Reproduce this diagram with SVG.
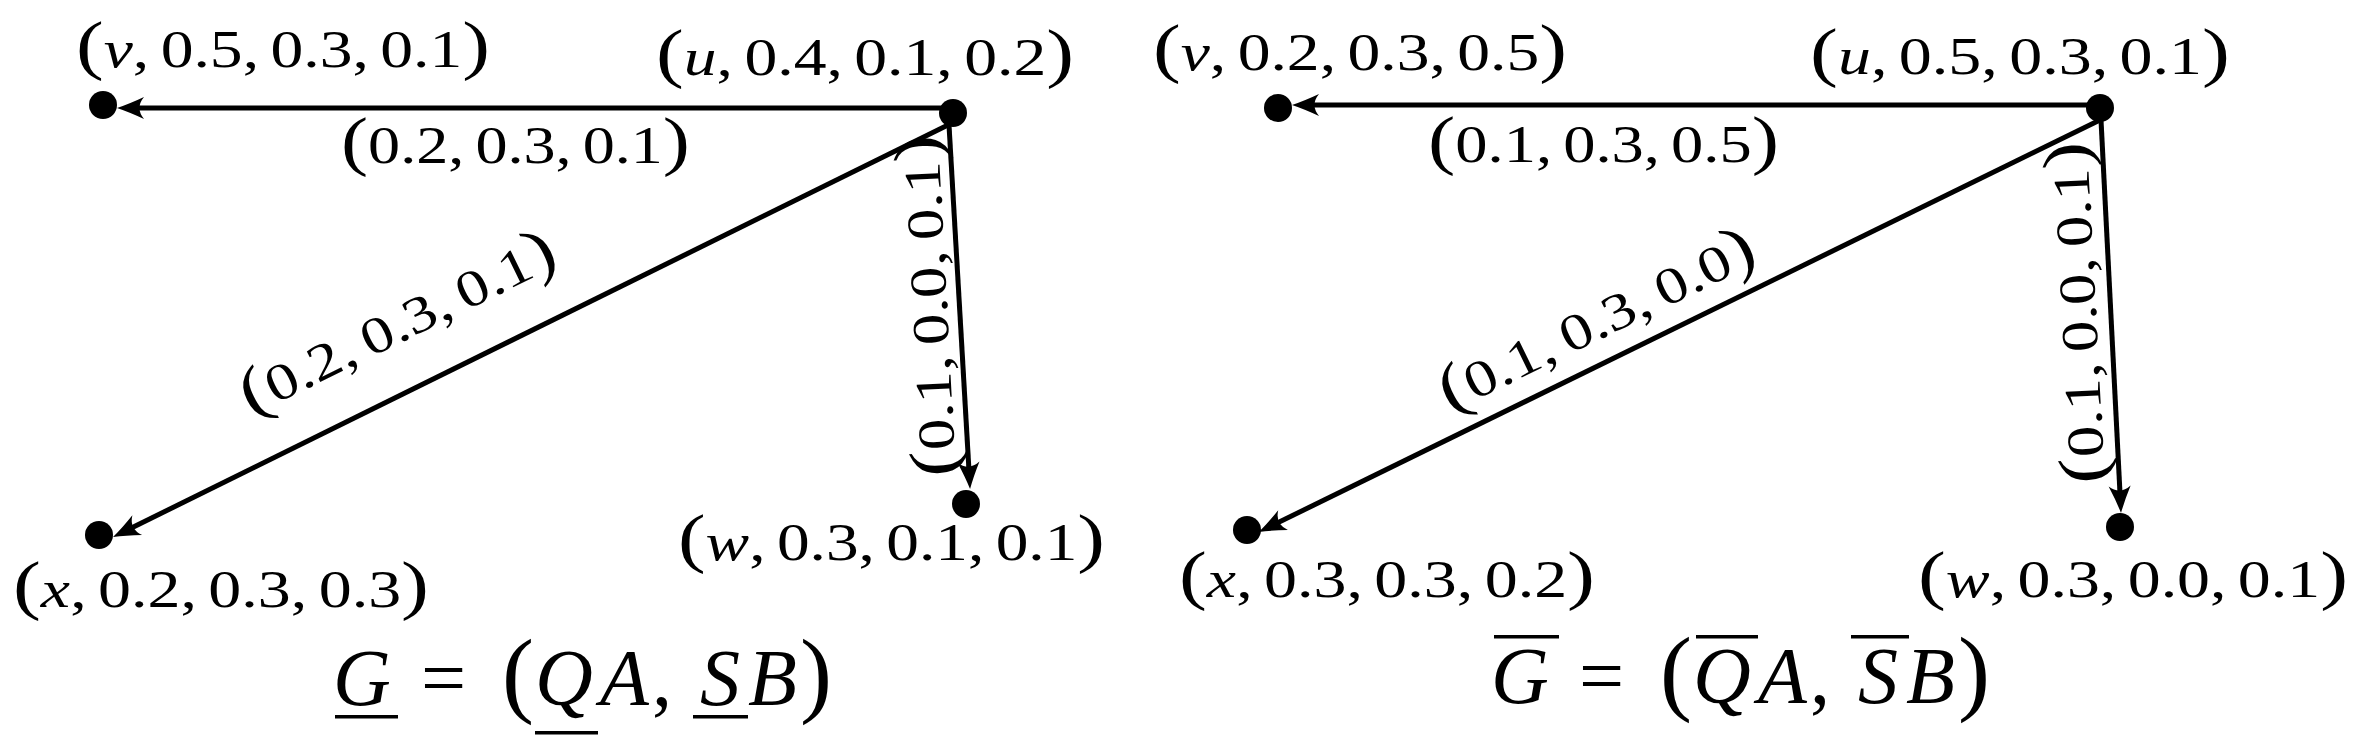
<svg xmlns="http://www.w3.org/2000/svg" width="2364" height="753" viewBox="0 0 2364 753">
<style>
.dot{fill:#000}
.edge{stroke:#000;stroke-width:5;fill:none;marker-end:url(#arr)}
.lbl{font-family:"Liberation Serif","Times New Roman","DejaVu Serif",serif;font-size:52px;fill:#000;word-spacing:-4px}
.it{font-style:italic}
.p{font-size:66px}
.f{font-family:"Liberation Serif","Times New Roman","DejaVu Serif",serif;font-size:80px;fill:#000}
.fp{font-size:96px}
.bar{fill:#000}
</style>
<defs>
<marker id="arr" markerUnits="userSpaceOnUse" viewBox="-32 -16 36 32" markerWidth="36" markerHeight="32" refX="-8" refY="0" orient="auto">
<path d="M0,0 Q-12,-4 -27,-11 Q-18,0 -27,11 Q-12,4 0,0 Z" fill="#000"/>
</marker>
</defs>
<rect width="2364" height="753" fill="#fff"/>

<g id="connectors">
<line class="edge" x1="950" y1="108" x2="125" y2="108"/>
<line class="edge" x1="948" y1="125" x2="120.2" y2="533.5"/>
<line class="edge" x1="949" y1="125" x2="969.6" y2="481"/>
<text class="lbl" x="341" y="163" textLength="349" lengthAdjust="spacingAndGlyphs"><tspan class="p">(</tspan>0.2, 0.3, 0.1<tspan class="p">)</tspan></text>
<text class="lbl" x="406" y="340" text-anchor="middle" textLength="345" lengthAdjust="spacingAndGlyphs" transform="rotate(-26.1 406 340)"><tspan class="p">(</tspan>0.2, 0.3, 0.1<tspan class="p">)</tspan></text>
<text class="lbl" x="947" y="305" text-anchor="middle" textLength="342" lengthAdjust="spacingAndGlyphs" transform="rotate(-93 947 305)"><tspan class="p">(</tspan>0.1, 0.0, 0.1<tspan class="p">)</tspan></text>
<line class="edge" x1="2098" y1="105" x2="1300" y2="105"/>
<line class="edge" x1="2100" y1="120" x2="1266" y2="528.5"/>
<line class="edge" x1="2101" y1="120" x2="2120.6" y2="505"/>
<text class="lbl" x="1428" y="162" textLength="351" lengthAdjust="spacingAndGlyphs"><tspan class="p">(</tspan>0.1, 0.3, 0.5<tspan class="p">)</tspan></text>
<text class="lbl" x="1605" y="337" text-anchor="middle" textLength="345" lengthAdjust="spacingAndGlyphs" transform="rotate(-26 1605 337)"><tspan class="p">(</tspan>0.1, 0.3, 0.0<tspan class="p">)</tspan></text>
<text class="lbl" x="2096" y="312" text-anchor="middle" textLength="342" lengthAdjust="spacingAndGlyphs" transform="rotate(-93 2096 312)"><tspan class="p">(</tspan>0.1, 0.0, 0.1<tspan class="p">)</tspan></text>
</g>

<g id="left-u">
<circle class="dot" cx="953" cy="113" r="14"/>
<text class="lbl" x="656" y="75" textLength="418" lengthAdjust="spacingAndGlyphs"><tspan class="p">(</tspan><tspan class="it">u</tspan>, 0.4, 0.1, 0.2<tspan class="p">)</tspan></text>
</g>
<g id="left-v">
<circle class="dot" cx="103" cy="105" r="14"/>
<text class="lbl" x="76" y="67" textLength="414" lengthAdjust="spacingAndGlyphs"><tspan class="p">(</tspan><tspan class="it">v</tspan>, 0.5, 0.3, 0.1<tspan class="p">)</tspan></text>
</g>
<g id="left-x">
<circle class="dot" cx="99" cy="535" r="14"/>
<text class="lbl" x="13" y="607" textLength="416" lengthAdjust="spacingAndGlyphs"><tspan class="p">(</tspan><tspan class="it">x</tspan>, 0.2, 0.3, 0.3<tspan class="p">)</tspan></text>
</g>
<g id="left-w">
<circle class="dot" cx="966" cy="504" r="14"/>
<text class="lbl" x="678" y="560" textLength="427" lengthAdjust="spacingAndGlyphs"><tspan class="p">(</tspan><tspan class="it">w</tspan>, 0.3, 0.1, 0.1<tspan class="p">)</tspan></text>
</g>
<g id="left-title">
<text class="f" y="705"><tspan class="it" x="333">G</tspan><tspan x="421">=</tspan><tspan class="fp" x="502">(</tspan><tspan class="it" x="535">Q</tspan><tspan class="it" x="600">A</tspan><tspan x="652">,</tspan><tspan class="it" x="700">S</tspan><tspan class="it" x="748">B</tspan><tspan class="fp" x="800">)</tspan></text>
<rect class="bar" x="335" y="715" width="63" height="3.5"/>
<rect class="bar" x="535" y="731" width="63" height="3.5"/>
<rect class="bar" x="693" y="715" width="55" height="3.5"/>
</g>

<g id="right-u">
<circle class="dot" cx="2100" cy="108" r="14"/>
<text class="lbl" x="1810" y="74" textLength="420" lengthAdjust="spacingAndGlyphs"><tspan class="p">(</tspan><tspan class="it">u</tspan>, 0.5, 0.3, 0.1<tspan class="p">)</tspan></text>
</g>
<g id="right-v">
<circle class="dot" cx="1278" cy="108" r="14"/>
<text class="lbl" x="1153" y="70" textLength="414" lengthAdjust="spacingAndGlyphs"><tspan class="p">(</tspan><tspan class="it">v</tspan>, 0.2, 0.3, 0.5<tspan class="p">)</tspan></text>
</g>
<g id="right-x">
<circle class="dot" cx="1247" cy="530" r="14"/>
<text class="lbl" x="1179" y="597" textLength="416" lengthAdjust="spacingAndGlyphs"><tspan class="p">(</tspan><tspan class="it">x</tspan>, 0.3, 0.3, 0.2<tspan class="p">)</tspan></text>
</g>
<g id="right-w">
<circle class="dot" cx="2120" cy="527" r="14"/>
<text class="lbl" x="1918" y="597" textLength="430" lengthAdjust="spacingAndGlyphs"><tspan class="p">(</tspan><tspan class="it">w</tspan>, 0.3, 0.0, 0.1<tspan class="p">)</tspan></text>
</g>
<g id="right-title">
<text class="f" y="703"><tspan class="it" x="1491">G</tspan><tspan x="1579">=</tspan><tspan class="fp" x="1660">(</tspan><tspan class="it" x="1693">Q</tspan><tspan class="it" x="1758">A</tspan><tspan x="1810">,</tspan><tspan class="it" x="1858">S</tspan><tspan class="it" x="1906">B</tspan><tspan class="fp" x="1958">)</tspan></text>
<rect class="bar" x="1494" y="635" width="65" height="3.5"/>
<rect class="bar" x="1696" y="635" width="62" height="3.5"/>
<rect class="bar" x="1851" y="635" width="58" height="3.5"/>
</g>
</svg>
